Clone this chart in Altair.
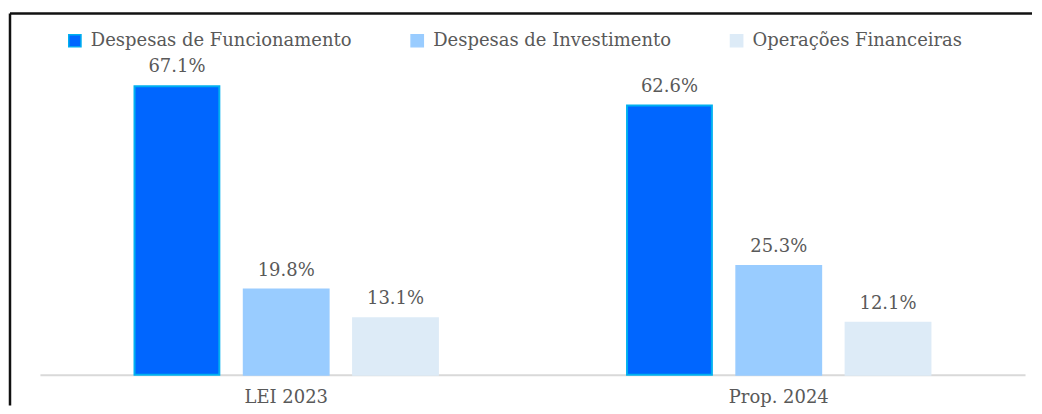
import altair as alt
import pandas as pd

grupos = ["LEI 2023", "Prop. 2024"]
series = ["Despesas de Funcionamento", "Despesas de Investimento", "Operações Financeiras"]
lei_2023 = [67.1, 19.8, 13.1]
prop_2024 = [62.6, 25.3, 12.1]
cores = ["#0066FF", "#99CCFF", "#DDEBF7"]
contornos = ["#00B0F0", "#99CCFF", "#DDEBF7"]

rows = []
for g, vals in zip(grupos, [lei_2023, prop_2024]):
    for s, v in zip(series, vals):
        rows.append({"Grupo": g, "Serie": s, "Valor": v})
df = pd.DataFrame(rows)

FONT = "DejaVu Serif"
TXT = "#595959"
FS = 18

legend = alt.Legend(
    title=None, orient="none", legendX=26, legendY=-21, direction="horizontal",
    columns=3, gridAlign="each", columnPadding=55, labelOffset=7, padding=0,
    symbolType="square", symbolSize=150, symbolStrokeWidth=1.5,
    labelFont=FONT, labelFontSize=FS, labelColor=TXT, labelLimit=400,
)

base = alt.Chart(df).encode(
    x=alt.X(
        "Grupo:N", sort=grupos,
        scale=alt.Scale(paddingInner=0, paddingOuter=0),
        axis=alt.Axis(
            title=None, labelAngle=0, ticks=False, tickSize=0, labelPadding=28,
            labelBaseline="alphabetic", domainColor="#D9D9D9", domainWidth=2,
            labelFont=FONT, labelFontSize=FS, labelColor=TXT,
        ),
    ),
    xOffset=alt.XOffset(
        "Serie:N", sort=series,
        scale=alt.Scale(paddingInner=0.2237, paddingOuter=0.8653),
    ),
    y=alt.Y("Valor:Q", scale=alt.Scale(domain=[0, 75], nice=False, zero=True), axis=None),
)

bars = base.mark_bar(strokeWidth=2).encode(
    color=alt.Color("Serie:N", sort=series, scale=alt.Scale(domain=series, range=cores), legend=legend),
    stroke=alt.Stroke("Serie:N", sort=series, scale=alt.Scale(domain=series, range=contornos), legend=legend),
)

labels = base.transform_calculate(
    rotulo="format(datum.Valor, '.1f') + '%'"
).mark_text(
    baseline="alphabetic", dy=-14, font=FONT, fontSize=FS, color=TXT
).encode(text="rotulo:N")

frame = alt.Chart(pd.DataFrame({"k": [0]}))
top_line = frame.mark_rule(color="#111111", strokeWidth=2.5).encode(
    x=alt.value(-30), x2=alt.value(994), y=alt.value(-39)
)
left_line = frame.mark_rule(color="#111111", strokeWidth=2.5).encode(
    x=alt.value(-30), y=alt.value(-39), y2=alt.value(354)
)

chart = alt.layer(top_line, left_line, bars, labels).properties(
    width=987, height=323,
    padding={"left": 0, "top": 3, "right": 0, "bottom": 0},
).configure_view(stroke=None)

chart.save("out.html", embed_options={"renderer": "svg", "actions": False})
